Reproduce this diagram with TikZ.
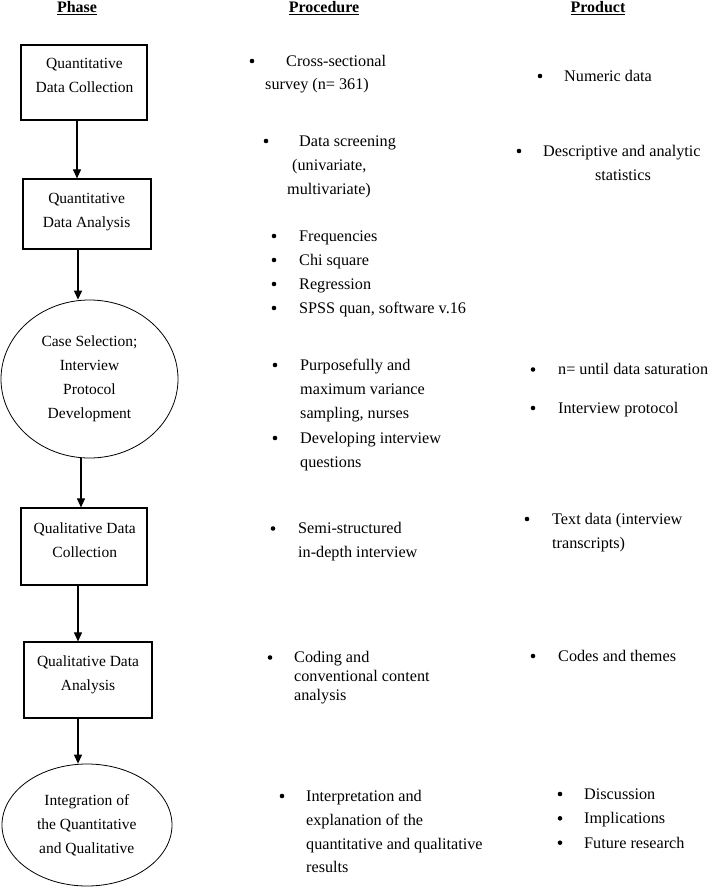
\documentclass[tikz,border=0pt]{standalone}
\usepackage{fontspec}
\setmainfont{Liberation Serif}
\usetikzlibrary{shapes.geometric,arrows.meta}
\newcommand{\phasefnt}{\fontsize{15.5}{24}\selectfont}
\newcommand{\itemfnt}{\fontsize{16.2}{24}\selectfont}
\newcommand{\headfnt}{\fontsize{16}{24}\selectfont\bfseries}
\begin{document}
\begin{tikzpicture}[x=1pt,y=-1pt,
  phasebox/.style={draw, rectangle, line width=1.2pt, inner sep=0pt},
  phaseoval/.style={draw, ellipse, line width=0.8pt, inner sep=0pt},
  ptext/.style={anchor=base, inner sep=0pt, font=\phasefnt},
  itext/.style={anchor=base west, inner sep=0pt, font=\itemfnt},
  ctext/.style={anchor=base, inner sep=0pt, font=\itemfnt},
  head/.style={anchor=base, inner sep=0pt, font=\headfnt},
  dot/.style={circle, fill=black, inner sep=0pt, minimum size=4.6pt},
  arr/.style={-{Triangle[width=8pt,length=9pt]}, line width=1.1pt}]
\useasboundingbox (0,0) rectangle (709,888);
\fill[white] (0,0) rectangle (709,888);

% headers
\node[head] (hphase) at (77,13) {\underline{Phase}};
\node[head] (hproc) at (324,13) {\underline{Procedure}};
\node[head] (hprod) at (598,13) {\underline{Product}};

% phase shapes
\node[phasebox, minimum width=126pt, minimum height=75pt] (q1) at (84,82.5) {};
\node[ptext] (q1a) at (84.5,68.3) {Quantitative};
\node[ptext] (q1b) at (84.5,92.5) {Data Collection};

\node[phasebox, minimum width=128pt, minimum height=70pt] (q2) at (87,214) {};
\node[ptext] (q2a) at (86.6,203) {Quantitative};
\node[ptext] (q2b) at (86.6,227) {Data Analysis};

\node[phaseoval, minimum width=177pt, minimum height=158pt] (e1) at (89.5,379) {};
\node[ptext] (e1a) at (89.5,346.7) {Case Selection;};
\node[ptext] (e1b) at (89.5,370.7) {Interview};
\node[ptext] (e1c) at (89.5,394.5) {Protocol};
\node[ptext] (e1d) at (89.5,418.3) {Development};

\node[phasebox, minimum width=126pt, minimum height=77pt] (q4) at (84,546.5) {};
\node[ptext] (q4a) at (84.7,533.3) {Qualitative Data};
\node[ptext] (q4b) at (84.7,557) {Collection};

\node[phasebox, minimum width=128pt, minimum height=76pt] (q5) at (88,680) {};
\node[ptext] (q5a) at (88,666.7) {Qualitative Data};
\node[ptext] (q5b) at (88,690.3) {Analysis};

\node[phaseoval, minimum width=170pt, minimum height=122pt] (e2) at (87,825) {};
\node[ptext] (e2a) at (86.8,805.7) {Integration of};
\node[ptext] (e2b) at (86.8,829.3) {the Quantitative};
\node[ptext] (e2c) at (86.8,853) {and Qualitative};

% arrows
\draw[arr] ([xshift=-7pt]q1.south) -- ([xshift=-10pt]q2.north);
\draw[arr] ([xshift=-9pt]q2.south) -- ([xshift=-11.5pt]e1.north);
\draw[arr] ([xshift=-8.5pt]e1.south) -- ([xshift=-3pt]q4.north);
\draw[arr] ([xshift=-6pt]q4.south) -- ([xshift=-10pt]q5.north);
\draw[arr] ([xshift=-10pt]q5.south) -- ([xshift=-9pt]e2.north);

% procedure column
\node[dot] (pb1) at (252,61) {};
\node[itext] (p1a) at (286,66.5) {Cross-sectional};
\node[itext] (p1b) at (265,89.5) {survey (n= 361)};

\node[dot] (pb2) at (266,141) {};
\node[itext] (p2a) at (299,146.5) {Data screening};
\node[itext] (p2b) at (292,170) {(univariate,};
\node[itext] (p2c) at (287,194) {multivariate)};

\node[dot] (pb3) at (274,236) {};
\node[itext] (p3) at (299,241.3) {Frequencies};
\node[dot] (pb4) at (274,260) {};
\node[itext] (p4) at (299,265.3) {Chi square};
\node[dot] (pb5) at (274,284) {};
\node[itext] (p5) at (299,289.3) {Regression};
\node[dot] (pb6) at (274,308) {};
\node[itext] (p6) at (299,313.3) {SPSS quan, software v.16};

\node[dot] (pb7) at (275,365) {};
\node[itext] (p7a) at (300,370.3) {Purposefully and};
\node[itext] (p7b) at (300,394.3) {maximum variance};
\node[itext] (p7c) at (300,418.3) {sampling, nurses};
\node[dot] (pb8) at (275,438) {};
\node[itext] (p8a) at (300,443.3) {Developing interview};
\node[itext] (p8b) at (300,467.3) {questions};

\node[dot] (pb9) at (273,528.5) {};
\node[itext] (p9a) at (298,533.5) {Semi-structured};
\node[itext] (p9b) at (298,557.3) {in-depth interview};

\node[dot] (pb10) at (270,657.5) {};
\node[itext] (p10a) at (294,662.5) {Coding and};
\node[itext] (p10b) at (294,681.5) {conventional content};
\node[itext] (p10c) at (294,700.5) {analysis};

\node[dot] (pb11) at (282,796) {};
\node[itext] (p11a) at (306,801.3) {Interpretation and};
\node[itext] (p11b) at (306,825) {explanation of the};
\node[itext] (p11c) at (306,849) {quantitative and qualitative};
\node[itext] (p11d) at (306,872.7) {results};

% product column
\node[dot] (rb1) at (540,76) {};
\node[itext] (r1) at (564,81.3) {Numeric data};

\node[dot] (rb2) at (519,151) {};
\node[itext] (r2a) at (543,156.3) {Descriptive and analytic};
\node[ctext] (r2b) at (623,180.3) {statistics};

\node[dot] (rb3) at (533,369.5) {};
\node[itext] (r3) at (558,374.7) {n= until data saturation};
\node[dot] (rb4) at (533,408) {};
\node[itext] (r4) at (558,413.3) {Interview protocol};

\node[dot] (rb5) at (527,519) {};
\node[itext] (r5a) at (552,524.3) {Text data (interview};
\node[itext] (r5b) at (552,548) {transcripts)};

\node[dot] (rb6) at (533,656) {};
\node[itext] (r6) at (558,661.3) {Codes and themes};

\node[dot] (rb7) at (560,794) {};
\node[itext] (r7) at (584,799.3) {Discussion};
\node[dot] (rb8) at (560,818.3) {};
\node[itext] (r8) at (584,823.5) {Implications};
\node[dot] (rb9) at (560,842.7) {};
\node[itext] (r9) at (584,848) {Future research};
\end{tikzpicture}
\end{document}
